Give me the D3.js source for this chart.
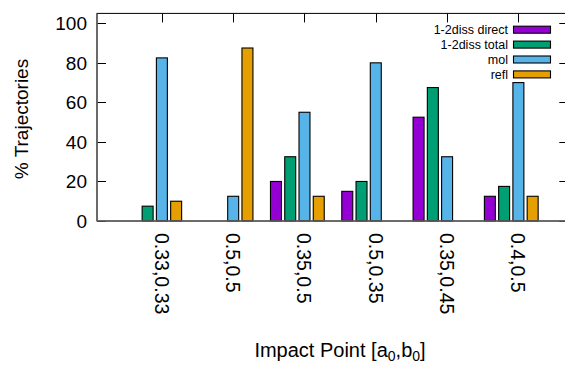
<!DOCTYPE html>
<html>
<head>
<meta charset="utf-8">
<script src="https://cdn.jsdelivr.net/npm/d3@7"></script>
<style>
  html, body { margin: 0; padding: 0; background: #fff; }
  svg { display: block; }
  text { font-family: "Liberation Sans", Arial, sans-serif; fill: #000; }
</style>
</head>
<body>
<div id="chart"></div>
<script>
// ---- data ----
const categories = ["0.33,0.33", "0.5,0.5", "0.35,0.5", "0.5,0.35", "0.35,0.45", "0.4,0.5"];
const seriesNames = ["1-2diss direct", "1-2diss total", "mol", "refl"];
const directVals = [0, 0, 20, 15, 52.5, 12.5];
const totalVals  = [7.5, 0, 32.5, 20, 67.5, 17.5];
const molVals    = [82.5, 12.5, 55, 80, 32.5, 70];
const reflVals   = [10, 87.5, 12.5, 0, 0, 12.5];
const yTicks = [0, 20, 40, 60, 80, 100];
const colors = ["#9400d3", "#009e73", "#56b4e9", "#e69f00"];

const series = [directVals, totalVals, molVals, reflVals];

// ---- layout ----
const W = 565, H = 365;
const pLeft = 97, pRight = 568.3, pTop = 13.4, pBottom = 221;

const svg = d3.select("#chart").append("svg")
  .attr("width", W).attr("height", H);

const x = d3.scaleLinear().domain([-0.91, 5.7]).range([pLeft, pRight]);
const y = d3.scaleLinear().domain([0, 105]).range([pBottom, pTop]);

const slot = 0.2;      // spacing between bars in a cluster (x units)
const barW = 0.154;    // bar width (x units)

// ---- mirror ticks ----
const tickLen = 9;
const g = svg.append("g");
g.selectAll(".ytl").data(yTicks).enter().append("line")
  .attr("x1", pLeft).attr("x2", pLeft + tickLen)
  .attr("y1", d => Math.round(y(d)) + 0.5).attr("y2", d => Math.round(y(d)) + 0.5)
  .attr("stroke", "#000").attr("stroke-width", 1);
g.selectAll(".ytr").data(yTicks).enter().append("line")
  .attr("x1", pRight - tickLen).attr("x2", pRight)
  .attr("y1", d => Math.round(y(d)) + 0.5).attr("y2", d => Math.round(y(d)) + 0.5)
  .attr("stroke", "#000").attr("stroke-width", 1);
g.selectAll(".xtt").data(categories).enter().append("line")
  .attr("x1", (d, i) => Math.round(x(i)) + 0.5).attr("x2", (d, i) => Math.round(x(i)) + 0.5)
  .attr("y1", pTop).attr("y2", pTop + tickLen)
  .attr("stroke", "#000").attr("stroke-width", 1);
g.selectAll(".xtb").data(categories).enter().append("line")
  .attr("x1", (d, i) => Math.round(x(i)) + 0.5).attr("x2", (d, i) => Math.round(x(i)) + 0.5)
  .attr("y1", pBottom).attr("y2", pBottom - tickLen)
  .attr("stroke", "#000").attr("stroke-width", 1);

// ---- bars ----
const bars = [];
series.forEach((vals, s) => {
  vals.forEach((v, i) => {
    if (v > 0) bars.push({ s, i, v });
  });
});
svg.append("g").selectAll("rect").data(bars).enter().append("rect")
  .attr("x", d => x(d.i + (d.s - 2) * slot - barW / 2))
  .attr("width", d => x(barW) - x(0))
  .attr("y", d => y(d.v))
  .attr("height", d => y(0) - y(d.v))
  .attr("fill", d => colors[d.s])
  .attr("stroke", "#000")
  .attr("stroke-width", 1.1);

// ---- border ----
svg.append("rect")
  .attr("x", pLeft).attr("y", pTop)
  .attr("width", pRight - pLeft).attr("height", pBottom - pTop)
  .attr("fill", "none").attr("stroke", "#000").attr("stroke-width", 1);
svg.append("line").attr("x1", pLeft).attr("x2", W).attr("y1", pBottom).attr("y2", pBottom)
  .attr("stroke", "#666").attr("stroke-width", 1.6);
svg.append("line").attr("x1", pLeft).attr("x2", pLeft).attr("y1", pTop).attr("y2", pBottom)
  .attr("stroke", "#666").attr("stroke-width", 1.6);

// ---- y tick labels ----
svg.append("g").selectAll("text").data(yTicks).enter().append("text")
  .attr("x", pLeft - 10).attr("y", d => y(d))
  .attr("dy", "0.36em")
  .attr("text-anchor", "end")
  .attr("font-size", 19)
  .text(d => d);

// ---- x tick labels (rotated) ----
svg.append("g").selectAll("text").data(categories).enter().append("text")
  .attr("transform", (d, i) => `translate(${x(i)},${pBottom + 12}) rotate(90)`)
  .attr("dy", "0.36em")
  .attr("text-anchor", "start")
  .attr("font-size", 19.5)
  .text(d => d);

// ---- axis titles ----
svg.append("text")
  .attr("transform", `translate(21,119) rotate(-90)`)
  .attr("text-anchor", "middle")
  .attr("dy", "0.36em")
  .attr("font-size", 19)
  .text("% Trajectories");

const xt = svg.append("text")
  .attr("x", 340).attr("y", 357)
  .attr("text-anchor", "middle")
  .attr("font-size", 20);
xt.append("tspan").text("Impact Point [a");
xt.append("tspan").attr("font-size", 14).attr("dy", 4).text("0");
xt.append("tspan").attr("dy", -4).text(",b");
xt.append("tspan").attr("font-size", 14).attr("dy", 4).text("0");
xt.append("tspan").attr("dy", -4).text("]");

// ---- legend ----
const leg = svg.append("g");
const legTextX = 508, boxX = 513.5, boxW = 37, boxH = 7, legY0 = 29.7, legStep = 14.9;
seriesNames.forEach((name, k) => {
  const cy = legY0 + k * legStep;
  leg.append("text")
    .attr("x", legTextX).attr("y", cy)
    .attr("dy", "0.36em")
    .attr("text-anchor", "end")
    .attr("font-size", 12.5)
    .text(name);
  leg.append("rect")
    .attr("x", boxX).attr("y", cy - boxH / 2)
    .attr("width", boxW).attr("height", boxH)
    .attr("fill", colors[k]).attr("stroke", "#000").attr("stroke-width", 1.1);
});
</script>
</body>
</html>
